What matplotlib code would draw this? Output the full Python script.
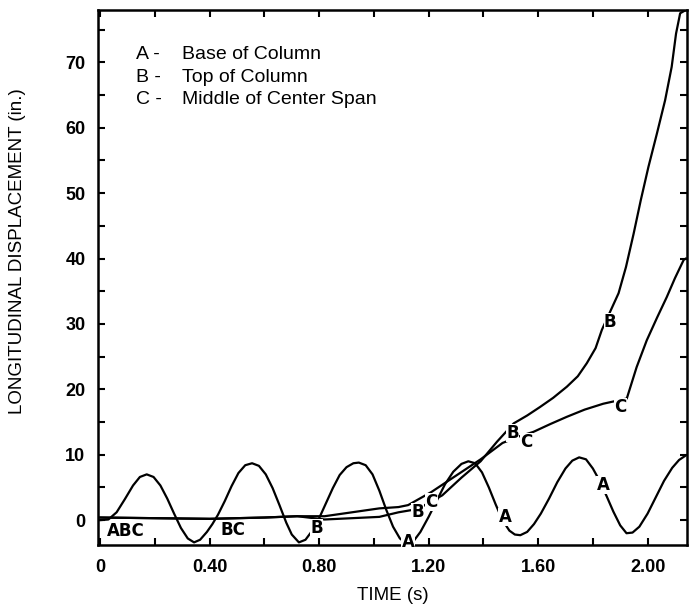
import matplotlib
matplotlib.use("Agg")
import matplotlib.pyplot as plt
from matplotlib.ticker import MultipleLocator, FixedLocator

# ---- data ----
t_A = [0.00, 0.03, 0.06, 0.09, 0.12, 0.145, 0.17, 0.195, 0.22, 0.245, 0.27, 0.295,
       0.32, 0.343, 0.365, 0.39, 0.41, 0.43, 0.455, 0.48, 0.505, 0.53, 0.555, 0.58,
       0.605, 0.63, 0.655, 0.68, 0.70, 0.726, 0.75, 0.775, 0.80, 0.825, 0.85, 0.875,
       0.90, 0.925, 0.945, 0.97, 0.995, 1.02, 1.045, 1.07, 1.095, 1.12, 1.145, 1.17,
       1.20, 1.23, 1.26, 1.29, 1.32, 1.345, 1.37, 1.395, 1.42, 1.445, 1.47, 1.495,
       1.515, 1.535, 1.56, 1.585, 1.61, 1.64, 1.67, 1.70, 1.725, 1.75, 1.775, 1.80,
       1.825, 1.85, 1.875, 1.90, 1.923, 1.945, 1.97, 2.00, 2.03, 2.06, 2.09, 2.115,
       2.14]
y_A = [0.0, 0.1, 1.2, 3.2, 5.3, 6.6, 7.0, 6.6, 5.3, 3.3, 1.0, -1.2,
       -2.8, -3.4, -3.0, -1.8, -0.6, 0.8, 2.9, 5.2, 7.2, 8.4, 8.7, 8.3,
       7.0, 4.9, 2.3, -0.4, -2.2, -3.4, -3.0, -1.6, 0.3, 2.6, 4.9, 6.9,
       8.1, 8.7, 8.8, 8.4, 7.0, 4.5, 1.6, -1.0, -2.8, -3.6, -3.2, -1.8,
       0.5, 3.0, 5.5, 7.4, 8.6, 9.0, 8.7, 7.3, 5.0, 2.4, 0.0, -1.6,
       -2.2, -2.3, -1.8, -0.6, 1.0, 3.3, 5.8, 7.9, 9.1, 9.6, 9.3, 7.9,
       6.0, 3.7, 1.3, -0.8, -2.0, -1.9, -1.0, 1.0, 3.5, 6.0, 8.0, 9.2,
       9.9]

t_B = [0.00, 0.20, 0.40, 0.60, 0.72, 0.82, 0.92, 1.02, 1.09, 1.16, 1.25, 1.32,
       1.39, 1.45, 1.511, 1.56, 1.607, 1.655, 1.705, 1.745, 1.778, 1.81, 1.833,
       1.894, 1.921, 1.949, 1.975, 2.003, 2.034, 2.064, 2.088, 2.104, 2.119, 2.14]
y_B = [0.4, 0.3, 0.2, 0.4, 0.6, 0.1, 0.3, 0.5, 1.2, 1.7, 3.8, 6.5,
       9.0, 12.0, 14.8, 16.0, 17.3, 18.7, 20.4, 22.0, 24.0, 26.3, 29.1,
       34.7, 38.7, 43.8, 48.9, 54.0, 59.1, 64.2, 69.3, 74.4, 77.5, 78.0]

t_C = [0.00, 0.20, 0.40, 0.60, 0.72, 0.82, 0.92, 1.02, 1.09, 1.125, 1.21, 1.30,
       1.39, 1.47, 1.53, 1.583, 1.645, 1.705, 1.77, 1.838, 1.924, 1.960, 1.997,
       2.035, 2.07, 2.10, 2.132, 2.14]
y_C = [0.4, 0.3, 0.2, 0.4, 0.6, 0.6, 1.2, 1.8, 2.0, 2.3, 4.3, 6.8,
       9.3, 11.8, 12.8, 13.5, 14.7, 15.8, 16.9, 17.8, 18.6, 23.4, 27.5,
       31.0, 34.1, 37.0, 39.8, 40.0]

# curve labels on the plot
lab_text = ["ABC", "BC", "B", "A", "B", "C", "A", "B", "C", "B", "C", "A"]
lab_t = [0.094, 0.485, 0.79, 1.125, 1.16, 1.21, 1.479, 1.508, 1.558, 1.863, 1.90, 1.837]
lab_y = [-1.7, -1.5, -1.2, -3.3, 1.2, 2.8, 0.5, 13.3, 11.9, 30.3, 17.3, 5.4]

legend_keys = ["A -", "B -", "C -"]
legend_desc = ["Base of Column", "Top of Column", "Middle of Center Span"]

x_major = [0.0, 0.4, 0.8, 1.2, 1.6, 2.0]
x_labels = ["0", "0.40", "0.80", "1.20", "1.60", "2.00"]

# ---- figure ----
plt.rcParams['font.family'] = ['Liberation Sans', 'DejaVu Sans']
fig = plt.figure(figsize=(6.91, 6.06), dpi=100)
ax = fig.add_axes([98 / 691, 1 - 545 / 606, (687 - 98) / 691, (545 - 10) / 606])

lw = 1.6
ax.plot(t_A, y_A, color='black', lw=lw, zorder=2)
ax.plot(t_B, y_B, color='black', lw=lw, zorder=2)
ax.plot(t_C, y_C, color='black', lw=lw, zorder=2)

for s, tx, ty in zip(lab_text, lab_t, lab_y):
    ax.text(tx, ty, s, ha='center', va='center', fontsize=12, fontweight='bold',
            family='DejaVu Sans',
            bbox=dict(facecolor='white', edgecolor='none', pad=0.1), zorder=3)

ax.set_xlim(-0.008, 2.144)
ax.set_ylim(-3.8, 78.0)

ax.xaxis.set_major_locator(FixedLocator(x_major))
ax.set_xticklabels(x_labels)
ax.xaxis.set_minor_locator(MultipleLocator(0.2))
ax.yaxis.set_major_locator(MultipleLocator(10))
ax.yaxis.set_minor_locator(MultipleLocator(5))

ax.tick_params(which='both', direction='in', top=True, right=True, length=5,
               width=1.5, color='black')
ax.tick_params(axis='x', which='major', pad=10, labelsize=13)
ax.tick_params(axis='y', which='major', pad=9, labelsize=13)
for lab in ax.get_xticklabels() + ax.get_yticklabels():
    lab.set_fontweight('bold')

for sp in ax.spines.values():
    sp.set_linewidth(1.8)

ax.set_xlabel("TIME (s)", fontsize=13.5, labelpad=8)
ax.set_ylabel("LONGITUDINAL DISPLACEMENT (in.)", fontsize=13.5)
ax.yaxis.set_label_coords(-0.122, 0.55)

# legend block
for i, (k, d) in enumerate(zip(legend_keys, legend_desc)):
    yy = 0.916 - i * 0.042
    ax.text(0.064, yy, k, transform=ax.transAxes, fontsize=14, va='center', ha='left')
    ax.text(0.142, yy, d, transform=ax.transAxes, fontsize=14, va='center', ha='left')

fig.savefig("out.png", dpi=100)
